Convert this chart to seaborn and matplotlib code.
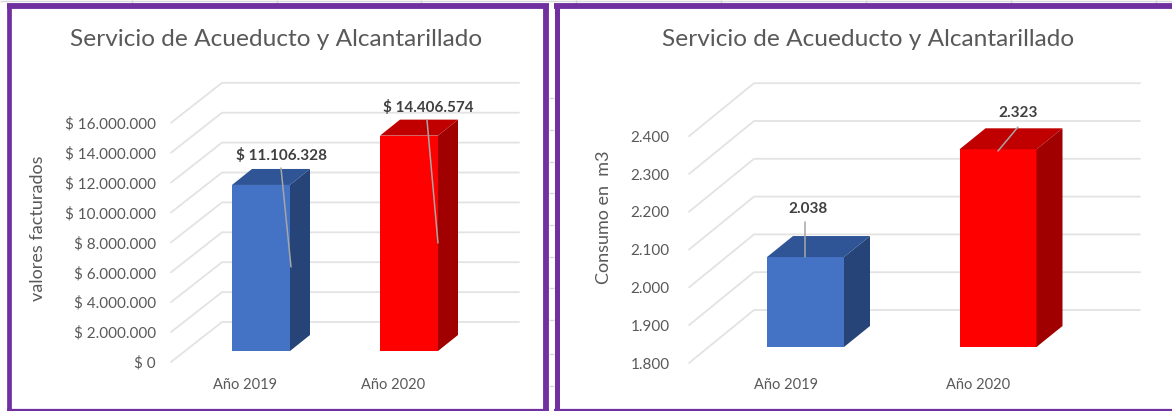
import matplotlib.pyplot as plt
from matplotlib.lines import Line2D
from matplotlib.patches import Polygon
import pandas as pd
import seaborn as sns

years = ['Año 2019', 'Año 2020']
facturado = [11106328, 14406574]
consumo = [2038, 2323]
ticks_facturado = [0, 2000000, 4000000, 6000000, 8000000, 10000000, 12000000, 14000000, 16000000]
ticks_consumo = [1800, 1900, 2000, 2100, 2200, 2300, 2400]
bar_colors = ['#4472C4', '#FF0000']
top_colors = ['#2F5597', '#C00000']
side_colors = ['#264478', '#A00000']

W, H = 1172, 411
GREY = '#595959'
PURPLE = '#7030A0'

sns.set_theme(style='white')
plt.rcParams['font.family'] = ['Lato', 'DejaVu Sans']

fig = plt.figure(figsize=(W / 100, H / 100), dpi=100)
fig.patch.set_facecolor('white')


def fig_line(xs, ys, color, lw):
    # line given in pixels of the image
    fig.add_artist(Line2D([x / W for x in xs], [1 - y / H for y in ys], color=color, lw=lw,
                          transform=fig.transFigure, solid_capstyle='butt'))


def panel(values, ticks, tick_fmt, title, ylabel, box, centers, bar_w, base_val, geo, labels):
    # box is left/right/top/bottom of the axes in pixels of the image
    left, right, top, bottom = box
    ax = fig.add_axes([left / W, 1 - bottom / H, (right - left) / W, (bottom - top) / H])
    px_x = centers[1] - centers[0]
    px_y = geo['px_per_unit']
    base_y = geo['base_y']

    def dx(p):
        return (p - centers[0]) / px_x

    def dy(p):
        return base_val + (base_y - p) / px_y

    df = pd.DataFrame({'year': years, 'value': values})
    sns.barplot(data=df, x='year', y='value', hue='year', palette=bar_colors, saturation=1,
                width=bar_w / px_x, legend=False, ax=ax, zorder=3)
    ax.set_xlim(dx(left), dx(right))
    ax.set_ylim(dy(bottom), dy(top))

    # back wall and floor lines
    off_front = (base_y - geo['front_y']) / px_y
    off_wall = (base_y - geo['wall_y']) / px_y
    for t in ticks:
        v = t - ticks[0] + base_val
        ax.plot([dx(left), dx(geo['wall_x']), dx(right)],
                [v + off_front, v + off_wall, v + off_wall],
                color='#E3E3E3', lw=1.3, zorder=1, clip_on=False)

    # bars have a false base on the cut axis, depth is drawn on top of them
    depth_x = geo['depth_x'] / px_x
    depth_y = geo['depth_y'] / px_y
    for i, p in enumerate(ax.patches):
        p.set_y(base_val)
        p.set_height(values[i] - base_val)
        p.set_edgecolor('none')
        x0, x1 = p.get_x(), p.get_x() + p.get_width()
        v = values[i]
        ax.add_patch(Polygon([(x0, v), (x1, v), (x1 + depth_x, v + depth_y), (x0 + depth_x, v + depth_y)],
                             closed=True, fc=top_colors[i], ec='none', zorder=3))
        ax.add_patch(Polygon([(x1, base_val), (x1 + depth_x, base_val + depth_y),
                              (x1 + depth_x, v + depth_y), (x1, v)],
                             closed=True, fc=side_colors[i], ec='none', zorder=3))

    # data labels with their leader lines
    for (tx, ty, lx0, ly0, lx1, ly1), v in zip(labels, values):
        ax.plot([dx(lx0), dx(lx1)], [dy(ly0), dy(ly1)], color='#A6A6A6', lw=1.1, zorder=4)
        ax.text(dx(tx), dy(ty), tick_fmt(v), ha='center', va='center', fontsize=geo['label_fs'],
                fontweight='bold', color='#404040', zorder=5)

    ax.set_yticks([t - ticks[0] + base_val + off_front for t in ticks])
    ax.set_yticklabels([tick_fmt(t) for t in ticks], color=GREY, fontsize=geo['tick_fs'])
    ax.set_xticks([dx(c - geo['cat_shift']) for c in centers])
    ax.set_xticklabels(years, color=GREY, fontsize=10.5)
    ax.tick_params(axis='y', length=0, pad=geo['y_pad'])
    ax.tick_params(axis='x', length=0, pad=geo['x_pad'])
    ax.set_xlabel('')
    ax.set_ylabel(ylabel, color=GREY, fontsize=13, va='center')
    ax.yaxis.set_label_coords((geo['lab_x'] - left) / (right - left), (bottom - geo['lab_y']) / (bottom - top))
    ax.patch.set_alpha(0)
    sns.despine(ax=ax, left=True, bottom=True)
    fig.text(geo['title_x'] / W, 1 - 39 / H, title, ha='center', va='center', fontsize=17.6, color=GREY)


def money(v):
    return '$ ' + f'{v:,.0f}'.replace(',', '.')


def plain(v):
    return f'{v:,.0f}'.replace(',', '.')


panel(facturado, ticks_facturado, money, 'Servicio de Acueducto y Alcantarillado', 'valores facturados',
      (171, 519, 70, 375), (261, 409), 58, 0,
      dict(px_per_unit=14.95e-6, base_y=351, front_y=362, wall_y=322, wall_x=222, depth_x=20, depth_y=16,
           tick_fs=11, label_fs=11, y_pad=11, x_pad=2, cat_shift=16, lab_x=38, lab_y=228, title_x=276.5),
      [(282, 156, 281, 168, 291, 267), (428, 107, 427, 120, 438, 243)])

panel(consumo, ticks_consumo, plain, 'Servicio de Acueducto y Alcantarillado', 'Consumo en  m3',
      (689, 1140, 70, 375), (805.5, 998), 77, 1800,
      dict(px_per_unit=0.378, base_y=347, front_y=363, wall_y=310, wall_x=754, depth_x=26, depth_y=21,
           tick_fs=11, label_fs=11, y_pad=14, x_pad=2, cat_shift=20, lab_x=604, lab_y=217, title_x=868),
      [(808, 209, 805, 222, 805, 257), (1018, 113, 1018, 127, 998, 151)])

# spreadsheet lines that show around the frames
fig_line([0, W], [1.5, 1.5], '#D9D9D9', 1)
for x in [132, 277, 421, 576, 721, 866, 1011, 1156]:
    fig_line([x, x], [0, 3], '#D0D0D0', 1)
for y in [98, 130, 162, 193, 225, 257, 288, 320, 354, 386]:
    fig_line([549, 554], [y, y], '#D9D9D9', 1)

# purple frames around both charts, the right one runs off the image
fig_line([7, 549], [6, 6], PURPLE, 4.2)
fig_line([554, W], [6, 6], PURPLE, 4.2)
fig_line([9, 9], [4, 411], PURPLE, 3.4)
fig_line([546, 546], [4, 411], PURPLE, 4.2)
fig_line([556.5, 556.5], [4, 411], PURPLE, 3.6)
fig_line([7, 549], [410, 410], PURPLE, 1.6)
fig_line([554, W], [410, 410], PURPLE, 1.6)

fig.savefig('out.png', dpi=100)
